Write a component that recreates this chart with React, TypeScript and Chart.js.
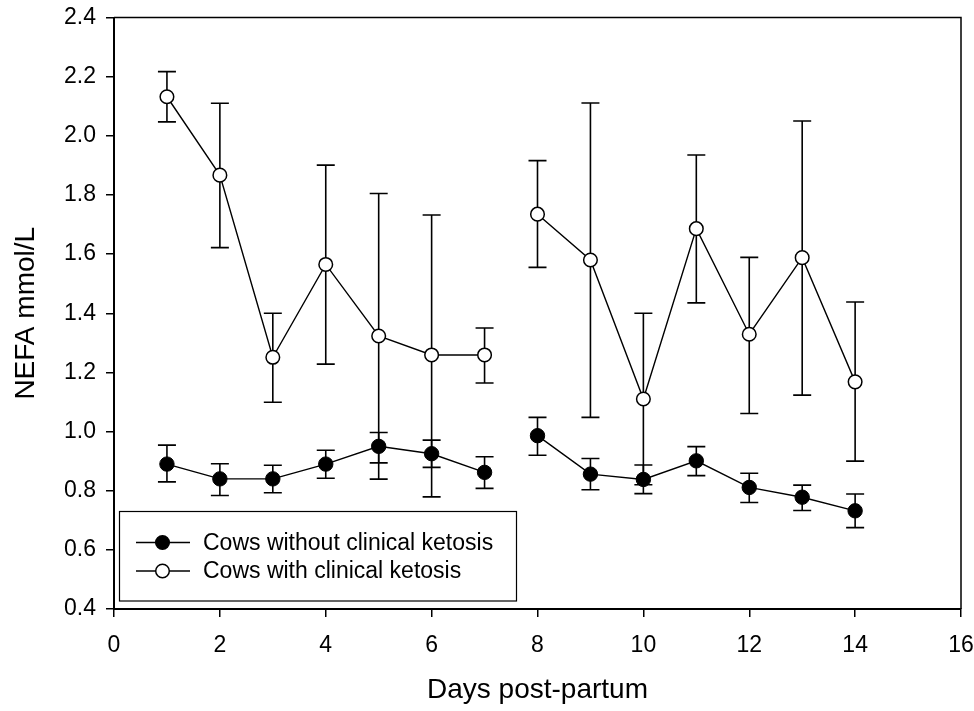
import React, { useEffect, useRef } from "react";
import { Chart, registerables } from "chart.js";

Chart.register(...registerables);

const days = [1, 2, 3, 4, 5, 6, 7, 8, 9, 10, 11, 12, 13, 14];
const breakAfterDay = 7;

const withoutMean = [0.89, 0.84, 0.84, 0.89, 0.95, 0.925, 0.862, 0.986, 0.856, 0.838, 0.901, 0.811, 0.778, 0.732];
const withoutUpper = [0.954, 0.891, 0.886, 0.937, 0.997, 0.971, 0.915, 1.048, 0.909, 0.887, 0.949, 0.859, 0.819, 0.789];
const withoutLower = [0.83, 0.784, 0.793, 0.842, 0.894, 0.879, 0.808, 0.92, 0.803, 0.79, 0.851, 0.76, 0.733, 0.675];

const withMean = [2.132, 1.867, 1.251, 1.565, 1.323, 1.259, 1.259, 1.735, 1.58, 1.11, 1.686, 1.329, 1.588, 1.168];
const withUpper = [2.217, 2.11, 1.4, 1.901, 1.805, 1.732, 1.35, 1.916, 2.111, 1.4, 1.935, 1.589, 2.05, 1.438];
const withLower = [2.047, 1.622, 1.099, 1.228, 0.839, 0.779, 1.164, 1.555, 1.048, 0.82, 1.435, 1.061, 1.123, 0.9];

const seriesLabels = ["Cows without clinical ketosis", "Cows with clinical ketosis"];
const xTitle = "Days post-partum";
const yTitle = "NEFA mmol/L";

const FONT = "'Liberation Sans', Arial, Helvetica, sans-serif";

function buildPoints(values: number[]) {
  const pts: { x: number; y: number | null }[] = [];
  days.forEach((d, i) => {
    pts.push({ x: d, y: values[i] });
    if (d === breakAfterDay) pts.push({ x: d + 0.5, y: null });
  });
  return pts;
}

const errorBars = [
  { upper: withoutUpper, lower: withoutLower },
  { upper: withUpper, lower: withLower },
];

const errorBarPlugin = {
  id: "errorBars",
  beforeDatasetsDraw(chart: any) {
    const ctx = chart.ctx;
    const xs = chart.scales.x;
    const ys = chart.scales.y;
    ctx.save();
    ctx.strokeStyle = "#000";
    ctx.lineWidth = 1.6;
    const cap = 9;
    errorBars.forEach((eb) => {
      days.forEach((d, i) => {
        const px = xs.getPixelForValue(d);
        const pu = ys.getPixelForValue(eb.upper[i]);
        const pl = ys.getPixelForValue(eb.lower[i]);
        ctx.beginPath();
        ctx.moveTo(px, pu);
        ctx.lineTo(px, pl);
        ctx.moveTo(px - cap, pu);
        ctx.lineTo(px + cap, pu);
        ctx.moveTo(px - cap, pl);
        ctx.lineTo(px + cap, pl);
        ctx.stroke();
      });
    });
    ctx.restore();
  },
};

const framePlugin = {
  id: "frame",
  afterDraw(chart: any) {
    const ctx = chart.ctx;
    const a = chart.chartArea;
    ctx.save();
    ctx.strokeStyle = "#000";
    ctx.lineWidth = 1.5;
    ctx.beginPath();
    ctx.moveTo(a.left, a.top);
    ctx.lineTo(a.right, a.top);
    ctx.lineTo(a.right, a.bottom);
    ctx.stroke();

    // axis titles
    ctx.fillStyle = "#000";
    ctx.font = `28px ${FONT}`;
    ctx.textAlign = "center";
    ctx.textBaseline = "middle";
    ctx.fillText(xTitle, (a.left + a.right) / 2, 690);
    ctx.save();
    ctx.translate(26, (a.top + a.bottom) / 2);
    ctx.rotate(-Math.PI / 2);
    ctx.fillText(yTitle, 0, 0);
    ctx.restore();

    // legend box
    const bx = 119.5, by = 511.5, bw = 397, bh = 89.5;
    ctx.fillStyle = "#fff";
    ctx.fillRect(bx, by, bw, bh);
    ctx.lineWidth = 1.2;
    ctx.strokeRect(bx, by, bw, bh);
    const rows = [542.5, 571];
    rows.forEach((ry, i) => {
      ctx.lineWidth = 1.4;
      ctx.beginPath();
      ctx.moveTo(136, ry);
      ctx.lineTo(190, ry);
      ctx.stroke();
      ctx.beginPath();
      ctx.arc(162.5, ry, 6.8, 0, Math.PI * 2);
      ctx.fillStyle = i === 0 ? "#000" : "#fff";
      ctx.fill();
      ctx.lineWidth = 1.5;
      ctx.stroke();
      ctx.fillStyle = "#000";
      ctx.font = `23px ${FONT}`;
      ctx.textAlign = "left";
      ctx.textBaseline = "middle";
      ctx.fillText(seriesLabels[i], 203, ry + 1);
    });
    ctx.restore();
  },
};

export default function App() {
  const canvasRef = useRef<HTMLCanvasElement | null>(null);

  useEffect(() => {
    if (!canvasRef.current) return;
    const chart = new Chart(canvasRef.current, {
      type: "line",
      data: {
        datasets: [
          {
            label: seriesLabels[0],
            data: buildPoints(withoutMean),
            borderColor: "#000",
            borderWidth: 1.4,
            pointRadius: 7.2,
            pointBackgroundColor: "#000",
            pointBorderColor: "#000",
            pointBorderWidth: 1,
            spanGaps: false,
            tension: 0,
          },
          {
            label: seriesLabels[1],
            data: buildPoints(withMean),
            borderColor: "#000",
            borderWidth: 1.4,
            pointRadius: 6.8,
            pointBackgroundColor: "#fff",
            pointBorderColor: "#000",
            pointBorderWidth: 1.5,
            spanGaps: false,
            tension: 0,
          },
        ],
      } as any,
      options: {
        animation: false,
        responsive: true,
        maintainAspectRatio: false,
        layout: { padding: { top: 17.5, right: 13, left: 0, bottom: 0 } },
        plugins: { legend: { display: false }, tooltip: { enabled: false } },
        scales: {
          x: {
            type: "linear",
            min: 0,
            max: 16,
            afterFit: (s: any) => {
              s.height = 102;
              s.paddingLeft = 0;
              s.paddingRight = 0;
            },
            ticks: {
              stepSize: 2,
              autoSkip: false,
              maxRotation: 0,
              color: "#000",
              padding: 15,
              font: { family: FONT, size: 23 },
            },
            grid: { drawOnChartArea: false, tickLength: 8, color: "#000", lineWidth: 1.5 },
            border: { color: "#000", width: 2 },
          },
          y: {
            type: "linear",
            min: 0.4,
            max: 2.4,
            afterFit: (s: any) => {
              s.width = 114;
              s.paddingTop = 0;
              s.paddingBottom = 0;
            },
            ticks: {
              stepSize: 0.2,
              autoSkip: false,
              color: "#000",
              padding: 10,
              font: { family: FONT, size: 23 },
              callback: (v: any) => Number(v).toFixed(1),
            },
            grid: { drawOnChartArea: false, tickLength: 8, color: "#000", lineWidth: 1.5 },
            border: { color: "#000", width: 2 },
          },
        },
      } as any,
      plugins: [errorBarPlugin, framePlugin],
    });
    return () => chart.destroy();
  }, []);

  return (
    <div style={{ position: "fixed", left: 0, top: 0, width: "974px", height: "711px", background: "#fff" }}>
      <canvas ref={canvasRef} />
    </div>
  );
}
